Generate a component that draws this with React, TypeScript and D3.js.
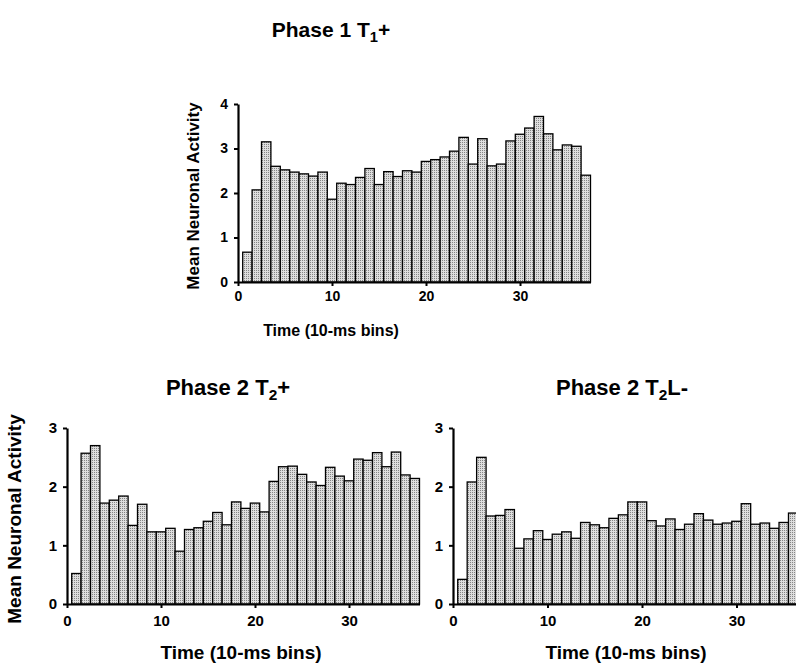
import React, { useEffect, useRef } from 'react'
import * as d3 from 'd3'

// bins 1..37 (10-ms bins), mean neuronal activity
const phase1T1 = [
  0.67, 2.07, 3.15, 2.6, 2.52, 2.47, 2.43, 2.38, 2.47, 1.86, 2.22, 2.19, 2.35,
  2.55, 2.19, 2.48, 2.37, 2.5, 2.47, 2.71, 2.75, 2.81, 2.94, 3.25, 2.65, 3.22,
  2.61, 2.65, 3.17, 3.32, 3.46, 3.72, 3.33, 2.97, 3.08, 3.05, 2.4
]
const phase2T2 = [
  0.52, 2.57, 2.7, 1.72, 1.77, 1.84, 1.34, 1.7, 1.23, 1.23, 1.29, 0.9, 1.27,
  1.3, 1.41, 1.56, 1.35, 1.74, 1.63, 1.72, 1.57, 2.09, 2.34, 2.35, 2.21, 2.08,
  2.02, 2.33, 2.18, 2.1, 2.47, 2.45, 2.58, 2.34, 2.59, 2.2, 2.14
]
const phase2T2L = [
  0.42, 2.08, 2.5, 1.5, 1.51, 1.61, 0.95, 1.11, 1.25, 1.1, 1.19, 1.23, 1.12,
  1.39, 1.35, 1.3, 1.46, 1.52, 1.74, 1.74, 1.42, 1.33, 1.45, 1.27, 1.36, 1.54,
  1.43, 1.36, 1.38, 1.41, 1.71, 1.36, 1.38, 1.29, 1.39, 1.55
]
const xTicks = [0, 10, 20, 30]
const yTicksTop = [0, 1, 2, 3, 4]
const yTicksBottom = [0, 1, 2, 3]
const yLabel = 'Mean Neuronal Activity'
const xLabel = 'Time (10-ms bins)'

const FONT = '"Liberation Sans", Arial, Helvetica, sans-serif'

const App = () => {
  const ref = useRef<SVGSVGElement>(null)

  useEffect(() => {
    const svg = d3.select(ref.current)
    svg.selectAll('*').remove()

    // stippled grey fill of the bars
    const pat = svg
      .append('defs')
      .append('pattern')
      .attr('id', 'stip')
      .attr('patternUnits', 'userSpaceOnUse')
      .attr('width', 2)
      .attr('height', 2)
    pat.append('rect').attr('width', 2).attr('height', 2).attr('fill', '#dedede')
    pat.append('rect').attr('width', 1).attr('height', 1).attr('fill', '#858585')

    // draw one histogram panel
    function drawPanel(opt: {
      data: number[]
      x0: number
      y0: number
      yTop: number
      yMax: number
      yTicks: number[]
      unit: number
      title: string
      sub: string
      tail: string
      titleX: number
      titleY: number
      titleSize: number
      tickSize: number
      xPad: number
      labelSize: number
      yLabelSize: number
      yLabelX: number | null
      xLabelX: number
      xLabelY: number
    }) {
      const g = svg.append('g')
      const x = d3
        .scaleLinear()
        .domain([0, 37.5])
        .range([opt.x0, opt.x0 + 37.5 * opt.unit])
      const y = d3.scaleLinear().domain([0, opt.yMax]).range([opt.y0, opt.yTop])

      // bars
      g.selectAll('rect.bar')
        .data(opt.data)
        .enter()
        .append('rect')
        .attr('class', 'bar')
        .attr('x', (d, i) => x(i + 0.5))
        .attr('width', x(1) - x(0))
        .attr('y', (d) => y(d))
        .attr('height', (d) => y(0) - y(d))
        .attr('fill', 'url(#stip)')
        .attr('stroke', '#000')
        .attr('stroke-width', 1.3)

      // x axis
      const xa = g
        .append('g')
        .attr('transform', `translate(0, ${opt.y0})`)
        .call(
          d3
            .axisBottom(x)
            .tickValues(xTicks)
            .tickSize(4)
            .tickSizeOuter(0)
            .tickPadding(opt.xPad)
        )
      // y axis
      const ya = g
        .append('g')
        .attr('transform', `translate(${opt.x0}, 0)`)
        .call(
          d3
            .axisLeft(y)
            .tickValues(opt.yTicks)
            .tickSize(4)
            .tickSizeOuter(0)
            .tickPadding(6)
            .tickFormat(d3.format('d'))
        )
      ;[xa, ya].forEach((a) => {
        a.select('.domain').attr('stroke-width', 2.2)
        a.selectAll('line').attr('stroke-width', 2)
        a.selectAll('text')
          .attr('font-family', FONT)
          .attr('font-weight', 'bold')
          .attr('font-size', opt.tickSize)
          .attr('fill', '#000')
      })

      // title with subscript
      const t = g
        .append('text')
        .attr('x', opt.titleX)
        .attr('y', opt.titleY)
        .attr('text-anchor', 'middle')
        .attr('font-family', FONT)
        .attr('font-weight', 'bold')
        .attr('font-size', opt.titleSize)
      t.append('tspan').text(opt.title)
      t.append('tspan')
        .attr('font-size', opt.titleSize * 0.7)
        .attr('dy', 5)
        .text(opt.sub)
      t.append('tspan').attr('dy', -5).text(opt.tail)

      if (opt.yLabelX !== null) {
        g.append('text')
          .attr(
            'transform',
            `translate(${opt.yLabelX}, ${(opt.y0 + opt.yTop) / 2 + 3}) rotate(-90)`
          )
          .attr('text-anchor', 'middle')
          .attr('font-family', FONT)
          .attr('font-weight', 'bold')
          .attr('font-size', opt.yLabelSize)
          .text(yLabel)
      }

      g.append('text')
        .attr('x', opt.xLabelX)
        .attr('y', opt.xLabelY)
        .attr('text-anchor', 'middle')
        .attr('font-family', FONT)
        .attr('font-weight', 'bold')
        .attr('font-size', opt.labelSize)
        .text(xLabel)
    }

    drawPanel({
      data: phase1T1,
      x0: 238,
      y0: 282,
      yTop: 104,
      yMax: 4,
      yTicks: yTicksTop,
      unit: 9.4,
      title: 'Phase 1 T',
      sub: '1',
      tail: '+',
      titleX: 331,
      titleY: 37,
      titleSize: 21,
      tickSize: 14,
      xPad: 5,
      labelSize: 16,
      yLabelSize: 17,
      yLabelX: 199,
      xLabelX: 331,
      xLabelY: 336
    })
    drawPanel({
      data: phase2T2,
      x0: 67,
      y0: 604,
      yTop: 428,
      yMax: 3,
      yTicks: yTicksBottom,
      unit: 9.4,
      title: 'Phase 2 T',
      sub: '2',
      tail: '+',
      titleX: 228,
      titleY: 395,
      titleSize: 22,
      tickSize: 15,
      xPad: 7,
      labelSize: 19,
      yLabelSize: 19,
      yLabelX: 21,
      xLabelX: 241,
      xLabelY: 659
    })
    drawPanel({
      data: phase2T2L,
      x0: 453,
      y0: 604,
      yTop: 428,
      yMax: 3,
      yTicks: yTicksBottom,
      unit: 9.45,
      title: 'Phase 2 T',
      sub: '2',
      tail: 'L-',
      titleX: 622,
      titleY: 395,
      titleSize: 22,
      tickSize: 15,
      xPad: 7,
      labelSize: 19,
      yLabelSize: 19,
      yLabelX: null,
      xLabelX: 626,
      xLabelY: 659
    })
  }, [])

  return (
    <svg
      ref={ref}
      width={796}
      height={666}
      style={{ position: 'absolute', left: 0, top: 0, background: '#fff' }}
    />
  )
}

export default App
